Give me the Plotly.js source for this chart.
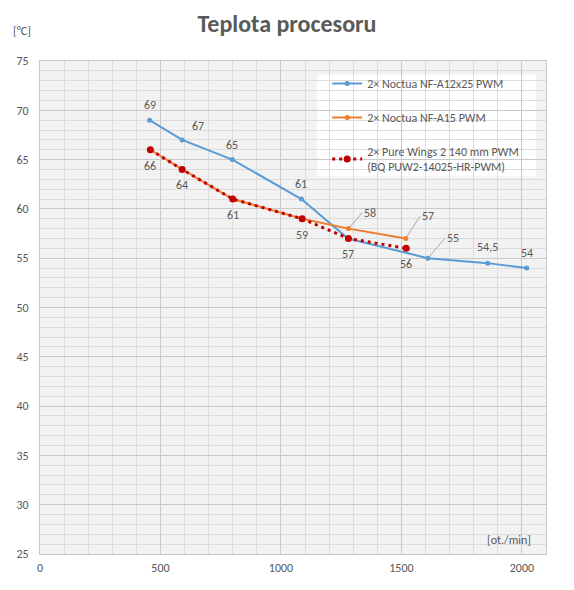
<!DOCTYPE html>
<html>
<head>
<meta charset="utf-8">
<script src="https://cdn.plot.ly/plotly-3.0.1.min.js"></script>
<style>html,body{margin:0;padding:0;background:#fff;}#chart{width:574px;height:590px;}</style>
</head>
<body>
<div id="chart"></div>
<script>
const seriesNames = ['2× Noctua NF-A12x25 PWM', '2× Noctua NF-A15 PWM', '2× Pure Wings 2 140 mm PWM<br>(BQ PUW2-14025-HR-PWM)'];
const blueX = [455, 590, 798, 1085, 1278, 1610, 1858, 2020];
const blueY = [69, 67, 65, 61, 57, 55, 54.5, 54];
const blueLabels = ['69', '67', '65', '61', '', '55', '54,5', '54'];
const orangeX = [458, 590, 800, 1088, 1280, 1518];
const orangeY = [66, 64, 61, 59, 58, 57];
const orangeLabels = ['', '', '', '', '58', '57'];
const redX = [458, 590, 800, 1088, 1280, 1520];
const redY = [66, 64, 61, 59, 57, 56];
const redLabels = ['66', '64', '61', '59', '57', '56'];
const yTicks = [25, 30, 35, 40, 45, 50, 55, 60, 65, 70, 75];
const xTicks = [0, 500, 1000, 1500, 2000];

const FONT = 'Calibri, Carlito, "Noto Sans", "Liberation Sans", sans-serif';
const GREY = '#595959';

const traces = [
  {x: blueX, y: blueY, name: seriesNames[0], mode: 'lines+markers', legendgroup: 'a',
   line: {color: '#5b9bd5', width: 2}, marker: {color: '#5b9bd5', size: 5}},
  {x: orangeX, y: orangeY, name: seriesNames[1], mode: 'lines+markers', legendgroup: 'b',
   line: {color: '#ed7d31', width: 2}, marker: {color: '#ed7d31', size: 5}},
  {x: redX, y: redY, name: seriesNames[2], mode: 'lines+markers', legendgroup: 'c',
   line: {color: '#c00000', width: 3, dash: '3px,4px'}, marker: {color: '#c00000', size: 7}}
];

const annotations = [];
const lblFont = {size: 12, color: GREY, family: FONT};
const blueOff = [[0,-15],[16,-14],[0,-15],[0,-15],[0,0],[0,0],[0,-16],[0,-15]];
blueX.forEach((x, i) => {
  if (!blueLabels[i]) return;
  if (i === 5) {
    annotations.push({x: x, y: blueY[i], text: blueLabels[i], showarrow: true, arrowhead: 0,
      arrowcolor: '#a6a6a6', arrowwidth: 1, ax: 17, ay: -20, standoff: 2, xanchor: 'left',
      font: lblFont});
  } else {
    annotations.push({x: x, y: blueY[i], text: blueLabels[i], showarrow: false,
      xshift: blueOff[i][0], yshift: -blueOff[i][1], font: lblFont});
  }
});
const orangeOff = [null, null, null, null, [14, -16], [14, -22]];
orangeX.forEach((x, i) => {
  if (!orangeLabels[i]) return;
  annotations.push({x: x, y: orangeY[i], text: orangeLabels[i], showarrow: true, arrowhead: 0,
    arrowcolor: '#a6a6a6', arrowwidth: 1, ax: orangeOff[i][0], ay: orangeOff[i][1], standoff: 2,
    xanchor: 'left', font: lblFont});
});
redX.forEach((x, i) => {
  if (!redLabels[i]) return;
  annotations.push({x: x, y: redY[i], text: redLabels[i], showarrow: false,
    yshift: -16, font: lblFont});
});
annotations.push({xref: 'paper', yref: 'paper', x: -0.0346, y: 1.061, xanchor: 'center', yanchor: 'middle',
  text: '[°C]', showarrow: false, font: lblFont});
annotations.push({xref: 'paper', yref: 'paper', x: 0.974, y: 0.0284, xanchor: 'right', yanchor: 'middle',
  text: '[ot./min]', showarrow: false, font: lblFont});

const layout = {
  width: 574, height: 590,
  margin: {l: 40, r: 28, t: 61, b: 36},
  paper_bgcolor: '#ffffff', plot_bgcolor: '#f2f2f2',
  font: {family: FONT, color: GREY, size: 12},
  title: {text: '<b>Teplota procesoru</b>', x: 0.5, xref: 'container', y: 0.96, yref: 'container',
    yanchor: 'middle', font: {size: 24, color: GREY, family: FONT}},
  xaxis: {range: [0, 2100], tickvals: xTicks, ticktext: xTicks.map(String), showgrid: true,
    gridcolor: '#c8c8c8', gridwidth: 1, zeroline: false, showline: true, linecolor: '#c8c8c8', mirror: true,
    ticks: '', ticklabelstandoff: 3,
    minor: {dtick: 100, showgrid: true, gridcolor: '#dcdcdc', gridwidth: 1}},
  yaxis: {range: [25, 75], tickvals: yTicks, ticktext: yTicks.map(String), showgrid: true,
    gridcolor: '#c8c8c8', gridwidth: 1, zeroline: false, showline: true, linecolor: '#c8c8c8', mirror: true,
    ticks: '', ticklabelstandoff: 8,
    minor: {dtick: 1, showgrid: true, gridcolor: '#dcdcdc', gridwidth: 1}},
  shapes: [{type: 'rect', xref: 'paper', yref: 'paper', x0: 0.548, x1: 0.98, y0: 0.765, y1: 0.972,
    fillcolor: '#ffffff', line: {width: 0}, layer: 'between'}],
  legend: {x: 0.5676, y: 0.984, xanchor: 'left', yanchor: 'top', bgcolor: 'rgba(0,0,0,0)',
    borderwidth: 0, tracegroupgap: 15, itemwidth: 30, font: {size: 12, color: GREY, family: FONT}},
  showlegend: true,
  annotations: annotations
};

Plotly.newPlot('chart', traces, layout, {displayModeBar: false, staticPlot: true});
</script>
</body>
</html>
